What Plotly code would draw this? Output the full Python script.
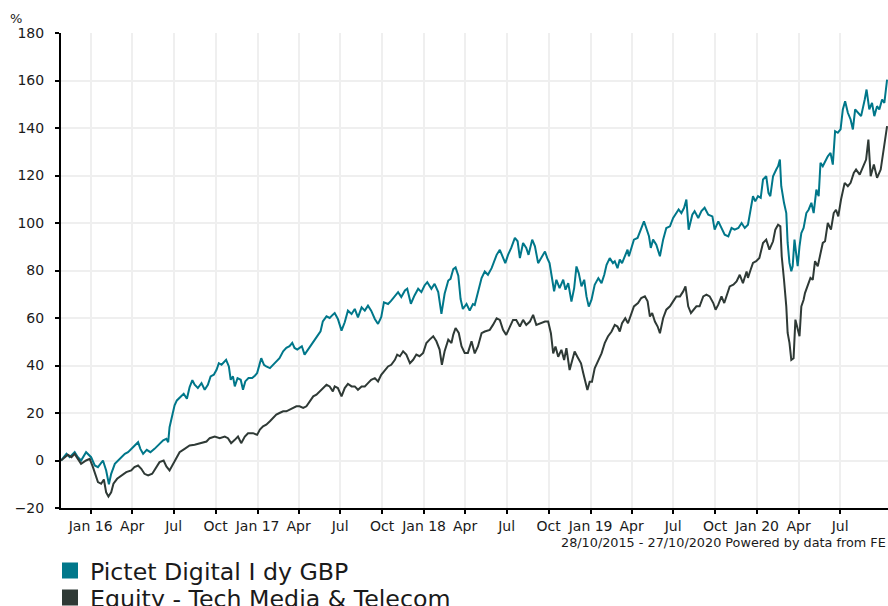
import pandas as pd
import plotly.graph_objects as go

# ---------------- data ----------------
start_date = pd.Timestamp("2015-10-28")
end_visible = pd.Timestamp("2020-10-14")

series_names = ["Pictet Digital I dy GBP", "Equity - Tech Media & Telecom"]
series_colors = ["#00778a", "#2f3a36"]

# (days since 28/10/2015, cumulative % return)
pictet_points = [
    (0, 0), (12, 2.8), (19, 1.4), (30, 3.5), (37, 1.4), (44, 0), (55, 3.5), (66, 1.4), (74, -2.1),
    (81, -2.8), (92, 0), (99, -4.2), (105, -10), (110, -5.6), (118, -1.4), (125, 0), (132, 1.4),
    (140, 2.8), (147, 3.5), (154, 4.9), (161, 6.3), (169, 7.7), (174, 4.9), (180, 2.8), (188, 4.5),
    (196, 3.5), (205, 4.9), (215, 7), (224, 8.5), (231, 9.1), (235, 7.7), (238, 14), (244, 19.7),
    (249, 23.2), (254, 25.3), (262, 26.7), (269, 28.1), (276, 26), (282, 30.9), (288, 33.8),
    (293, 31.9), (300, 30.5), (308, 32.6), (315, 29.8), (322, 31.9), (328, 35.4), (335, 36.1),
    (341, 38.2), (346, 41), (352, 40.3), (359, 41.7), (362, 42.4), (368, 39.6), (372, 34),
    (377, 35.4), (381, 31.2), (387, 34.7), (394, 34), (399, 29.8), (404, 33.3), (411, 34.7),
    (419, 34.7), (425, 35.7), (430, 36.8), (436, 41), (439, 43.1), (445, 40.3), (450, 39.6),
    (458, 38.9), (465, 40.3), (472, 41.7), (479, 43.1), (487, 46), (494, 47.4), (501, 48.1),
    (507, 49.5), (512, 47.4), (518, 46.7), (523, 47.4), (528, 48.1), (534, 44.6), (542, 46.7),
    (549, 48.8), (556, 50.9), (564, 53), (569, 54.4), (574, 58.6), (582, 60.7), (589, 60),
    (596, 61.4), (600, 62.1), (607, 59.6), (615, 54.7), (622, 58.2), (629, 63.1), (637, 61.7),
    (644, 63.8), (651, 60.3), (659, 64.5), (666, 63.1), (673, 65.2), (680, 63.1), (688, 59.6),
    (695, 57.5), (702, 60.3), (708, 66.6), (717, 65.9), (724, 67.3), (732, 69.5), (739, 70.9),
    (746, 68.8), (754, 71.6), (759, 72.3), (767, 66), (775, 69.5), (783, 72.3), (790, 70.9),
    (797, 73.7), (803, 75.1), (812, 72.3), (819, 74.4), (827, 70.9), (834, 61.7), (841, 70.2),
    (849, 75.8), (854, 76.5), (860, 80.6), (865, 81.3), (871, 77.8), (876, 68), (881, 63.8),
    (889, 65.9), (896, 63.1), (903, 65.9), (907, 65.5), (914, 70.5), (922, 76.8), (929, 79.6),
    (936, 78.2), (944, 81), (949, 83.8), (955, 86.6), (962, 88.7), (969, 85.2), (974, 83.1),
    (980, 86.6), (987, 89.5), (995, 93.7), (1001, 92.3), (1006, 85.2), (1013, 91.6), (1020, 89.5),
    (1025, 86.6), (1033, 93), (1039, 90.2), (1046, 83.1), (1053, 85.2), (1061, 88), (1066, 85.2),
    (1071, 83.1), (1077, 76.1), (1081, 71.2), (1086, 76.1), (1093, 72.6), (1101, 76.1),
    (1106, 71.9), (1112, 74.7), (1119, 66.9), (1125, 72.6), (1130, 81.7), (1135, 78.9),
    (1141, 73.3), (1147, 76.1), (1152, 69.1), (1157, 64.8), (1163, 67.7), (1170, 74), (1178, 76.8),
    (1185, 74.7), (1191, 78.2), (1196, 82.4), (1203, 85.2), (1210, 83.1), (1214, 83.9),
    (1220, 81), (1225, 84.6), (1230, 83.1), (1236, 86), (1242, 88.8), (1245, 86), (1251, 89.5),
    (1256, 93), (1264, 93.7), (1271, 97.2), (1278, 100.7), (1283, 97.9), (1289, 94.4),
    (1293, 89.5), (1298, 93), (1305, 90.9), (1313, 86), (1320, 93), (1327, 97.9), (1335, 98.6),
    (1342, 102.1), (1349, 104.2), (1354, 105.7), (1360, 104.2), (1366, 106.4), (1371, 109.9),
    (1376, 97.2), (1384, 103.5), (1389, 105), (1397, 102.1), (1404, 105), (1411, 106.4),
    (1419, 103.5), (1428, 102.8), (1433, 97.2), (1441, 100.7), (1448, 97.9), (1455, 95.1),
    (1463, 94.4), (1470, 97.9), (1477, 97.2), (1485, 97.9), (1492, 100), (1499, 97.9),
    (1506, 99.3), (1512, 105.6), (1517, 111.3), (1522, 109.1), (1528, 111.3), (1534, 110.6),
    (1539, 118.3), (1546, 119.7), (1551, 112.7), (1555, 111.3), (1561, 119.7), (1568, 122.5),
    (1572, 123.9), (1576, 126.7), (1579, 115.5), (1585, 108.5), (1590, 104.2), (1593, 91.6),
    (1597, 83.2), (1601, 79.7), (1604, 81.8), (1608, 93), (1612, 87.4), (1615, 81.8), (1619, 90.2),
    (1623, 95.8), (1628, 97.9), (1634, 104.2), (1639, 105.6), (1645, 108.5), (1650, 104.2),
    (1656, 114.1), (1661, 111.3), (1665, 125.3), (1670, 123.9), (1675, 126), (1681, 128.1),
    (1687, 129.5), (1692, 124.6), (1697, 138.7), (1703, 138), (1709, 139.4), (1714, 147.8),
    (1719, 151.3), (1725, 146.4), (1731, 143.6), (1736, 139.4), (1741, 147.8), (1747, 146.4),
    (1754, 145), (1762, 152), (1766, 156.2), (1772, 147.8), (1778, 150.6), (1783, 145),
    (1789, 149.2), (1794, 147.8), (1800, 152), (1805, 150.6), (1811, 160.4),
]

sector_points = [
    (0, 0), (8, 1.4), (15, 2.4), (23, 1.4), (30, 2.8), (37, 0.7), (44, -1.4), (55, 0), (63, 0.7),
    (70, -2.8), (76, -6.3), (81, -9.1), (88, -9.8), (94, -8), (99, -13.4), (104, -15.2),
    (110, -13.4), (115, -9.8), (123, -7.7), (132, -6.3), (143, -4.9), (154, -4.2), (161, -2.8),
    (169, -2.1), (176, -3.5), (183, -5.6), (191, -6.3), (200, -5.6), (209, -2.8), (216, -0.7),
    (225, 0), (231, -2.5), (238, -4.2), (246, -1.4), (253, 1.4), (260, 3.5), (271, 4.9), (282, 6.3),
    (293, 6.6), (308, 7.3), (319, 8), (326, 9.4), (337, 10.1), (348, 9.4), (359, 10.1), (366, 9.4),
    (373, 7.3), (381, 8.7), (388, 10.1), (395, 7.3), (403, 10.1), (410, 11.5), (421, 11.5),
    (430, 10.8), (436, 13), (443, 14.4), (450, 15.1), (458, 16.5), (465, 17.9), (472, 19.3),
    (479, 20), (487, 20.7), (494, 20.7), (501, 21.4), (509, 22.1), (516, 22.8), (523, 22.8),
    (531, 22.1), (538, 22.8), (545, 24.9), (553, 27), (560, 27.7), (567, 29.1), (574, 30.5),
    (582, 31.9), (589, 31.2), (596, 29.1), (600, 31.2), (607, 30.5), (615, 27), (622, 30.5),
    (629, 32.3), (637, 31.2), (644, 31.2), (651, 29.8), (659, 31.2), (666, 31.2), (673, 32.6),
    (680, 34), (688, 34.7), (695, 33.3), (702, 36.1), (710, 38.2), (717, 39.6), (724, 40.3),
    (732, 42.4), (737, 44.6), (743, 43.9), (750, 46), (757, 44.6), (765, 41), (772, 42.4),
    (779, 44.6), (786, 43.9), (794, 45.3), (801, 49.5), (808, 50.9), (816, 52.3), (823, 50.2),
    (830, 46.7), (835, 40.3), (841, 46), (849, 50.9), (856, 49.5), (860, 53), (865, 55.8),
    (872, 53.7), (878, 48.1), (885, 45.3), (892, 45.3), (900, 50.2), (907, 45.1), (914, 48),
    (922, 53.6), (929, 54.3), (940, 55), (947, 57.1), (955, 59.9), (962, 59.2), (969, 55),
    (976, 52.9), (984, 56.4), (991, 59.2), (998, 59.2), (1006, 56.4), (1013, 59.2), (1020, 57.1),
    (1028, 58.5), (1035, 61.3), (1042, 57.1), (1050, 57.8), (1061, 58.5), (1068, 58.5),
    (1074, 53.6), (1079, 45.1), (1084, 48), (1090, 43.7), (1097, 46.6), (1103, 42.3),
    (1108, 47.3), (1115, 38.1), (1121, 42.3), (1126, 45.9), (1132, 43.7), (1140, 40.9),
    (1145, 36.7), (1150, 32.5), (1154, 29.7), (1159, 33.2), (1164, 33.2), (1170, 38.8),
    (1178, 42.3), (1185, 45.1), (1192, 49.4), (1199, 52.2), (1207, 54.3), (1214, 57.1),
    (1220, 56.4), (1225, 54.3), (1230, 57.8), (1237, 59.9), (1243, 57.8), (1249, 61.3),
    (1256, 64.9), (1265, 66.3), (1272, 68.4), (1280, 69.1), (1286, 67), (1291, 60.6), (1296, 62.1),
    (1302, 58.5), (1308, 56.4), (1313, 53.6), (1320, 59.9), (1327, 63.5), (1335, 64.9), (1342, 67),
    (1349, 69.1), (1357, 69.1), (1364, 71.2), (1369, 73.3), (1375, 64.9), (1381, 62.1),
    (1388, 63.5), (1393, 64.9), (1400, 64.9), (1408, 69.1), (1415, 69.8), (1422, 69.1),
    (1430, 66.3), (1435, 63.5), (1441, 65.6), (1448, 69.1), (1454, 66.3), (1461, 70.5),
    (1466, 73.3), (1474, 74), (1481, 75.4), (1488, 78.2), (1495, 74.7), (1503, 79.6),
    (1506, 76.9), (1512, 80.4), (1517, 83.2), (1524, 83.9), (1531, 85.3), (1539, 91.6),
    (1546, 93), (1553, 88.8), (1561, 92.3), (1566, 97.2), (1572, 99.3), (1577, 98.6), (1580, 86),
    (1585, 76.1), (1590, 64.9), (1593, 53.7), (1597, 49.5), (1601, 42.4), (1606, 43.1),
    (1610, 59.3), (1615, 55.1), (1619, 52.3), (1623, 64.9), (1628, 67.7), (1631, 70.5), (1637, 74),
    (1643, 76.9), (1648, 76.1), (1653, 83.9), (1659, 81.8), (1665, 87.4), (1670, 91.6),
    (1675, 92.3), (1681, 100), (1688, 97.2), (1694, 104.2), (1699, 105.6), (1704, 102.8),
    (1710, 109.9), (1718, 116.9), (1725, 115.5), (1731, 116.9), (1738, 121.1), (1743, 122.5),
    (1751, 120.4), (1758, 123.9), (1765, 126.7), (1770, 135.1), (1775, 119.7), (1782, 124.6),
    (1789, 119), (1797, 122.5), (1804, 130.9), (1811, 140.8),
]

tick_dates = [
    "2016-01-01", "2016-04-01", "2016-07-01", "2016-10-01",
    "2017-01-01", "2017-04-01", "2017-07-01", "2017-10-01",
    "2018-01-01", "2018-04-01", "2018-07-01", "2018-10-01",
    "2019-01-01", "2019-04-01", "2019-07-01", "2019-10-01",
    "2020-01-01", "2020-04-01", "2020-07-01",
]
tick_labels = [
    "Jan 16", "Apr", "Jul", "Oct",
    "Jan 17", "Apr", "Jul", "Oct",
    "Jan 18", "Apr", "Jul", "Oct",
    "Jan 19", "Apr", "Jul", "Oct",
    "Jan 20", "Apr", "Jul",
]
y_ticks = [-20, 0, 20, 40, 60, 80, 100, 120, 140, 160, 180]

footnote = "28/10/2015 - 27/10/2020 Powered by data from FE"

# ---------------- figure ----------------
FONT = "Verdana, DejaVu Sans, sans-serif"
TEXT_COLOR = "#1a1a1a"
GRID = "#efefef"

fig = go.Figure()
for pts, name, color in zip([pictet_points, sector_points], series_names, series_colors):
    days, vals = zip(*pts)
    dates = start_date + pd.to_timedelta(list(days), unit="D")
    fig.add_trace(go.Scatter(x=dates, y=list(vals), mode="lines", name=name,
                             line=dict(color=color, width=2), showlegend=False,
                             hoverinfo="skip"))

# legend entries (square swatches)
for i, (name, color) in enumerate(zip(series_names, series_colors)):
    fig.add_trace(go.Scatter(x=[None], y=[None], mode="markers", name=name,
                             marker=dict(symbol="square", size=16, color=color),
                             legend="legend" if i == 0 else "legend2"))

legend_common = dict(font=dict(family=FONT, size=23.7, color=TEXT_COLOR),
                     bgcolor="rgba(0,0,0,0)", xanchor="left", yanchor="top",
                     itemclick=False, itemdoubleclick=False)

fig.update_layout(
    width=888, height=606,
    margin=dict(l=61, r=0, t=33, b=98, autoexpand=False),
    paper_bgcolor="white", plot_bgcolor="white",
    font=dict(family=FONT, size=14, color=TEXT_COLOR),
    legend=dict(x=-0.0133, y=-0.0853, **legend_common),
    legend2=dict(x=-0.0133, y=-0.1421, **legend_common),
    xaxis=dict(
        type="date", range=[start_date, end_visible],
        tickmode="array", tickvals=tick_dates, ticktext=tick_labels,
        showgrid=True, gridcolor=GRID, gridwidth=1.5,
        showline=True, linecolor="black", linewidth=2,
        ticks="outside", ticklen=4, tickwidth=2, tickcolor="black",
        tickfont=dict(size=14), zeroline=False, fixedrange=True,
    ),
    yaxis=dict(
        range=[-20, 180], tickmode="array", tickvals=y_ticks,
        showgrid=True, gridcolor=GRID, gridwidth=1.5,
        showline=True, linecolor="black", linewidth=2,
        ticks="outside", ticklen=4, tickwidth=2, tickcolor="black",
        tickfont=dict(size=14), zeroline=False, ticklabelstandoff=8, fixedrange=True,
    ),
    annotations=[
        dict(text="%", xref="paper", yref="paper", x=-0.0544, y=1.0305,
             xanchor="center", yanchor="middle", showarrow=False,
             font=dict(size=13, color=TEXT_COLOR)),
        dict(text=footnote, xref="paper", yref="paper", x=0.9995, y=-0.0726,
             xanchor="right", yanchor="middle", showarrow=False,
             font=dict(size=12.8, color=TEXT_COLOR)),
    ],
)

fig.write_html("out.html", config={"displayModeBar": False},
               post_script="document.body.style.margin='0px';document.body.style.overflow='hidden';")
